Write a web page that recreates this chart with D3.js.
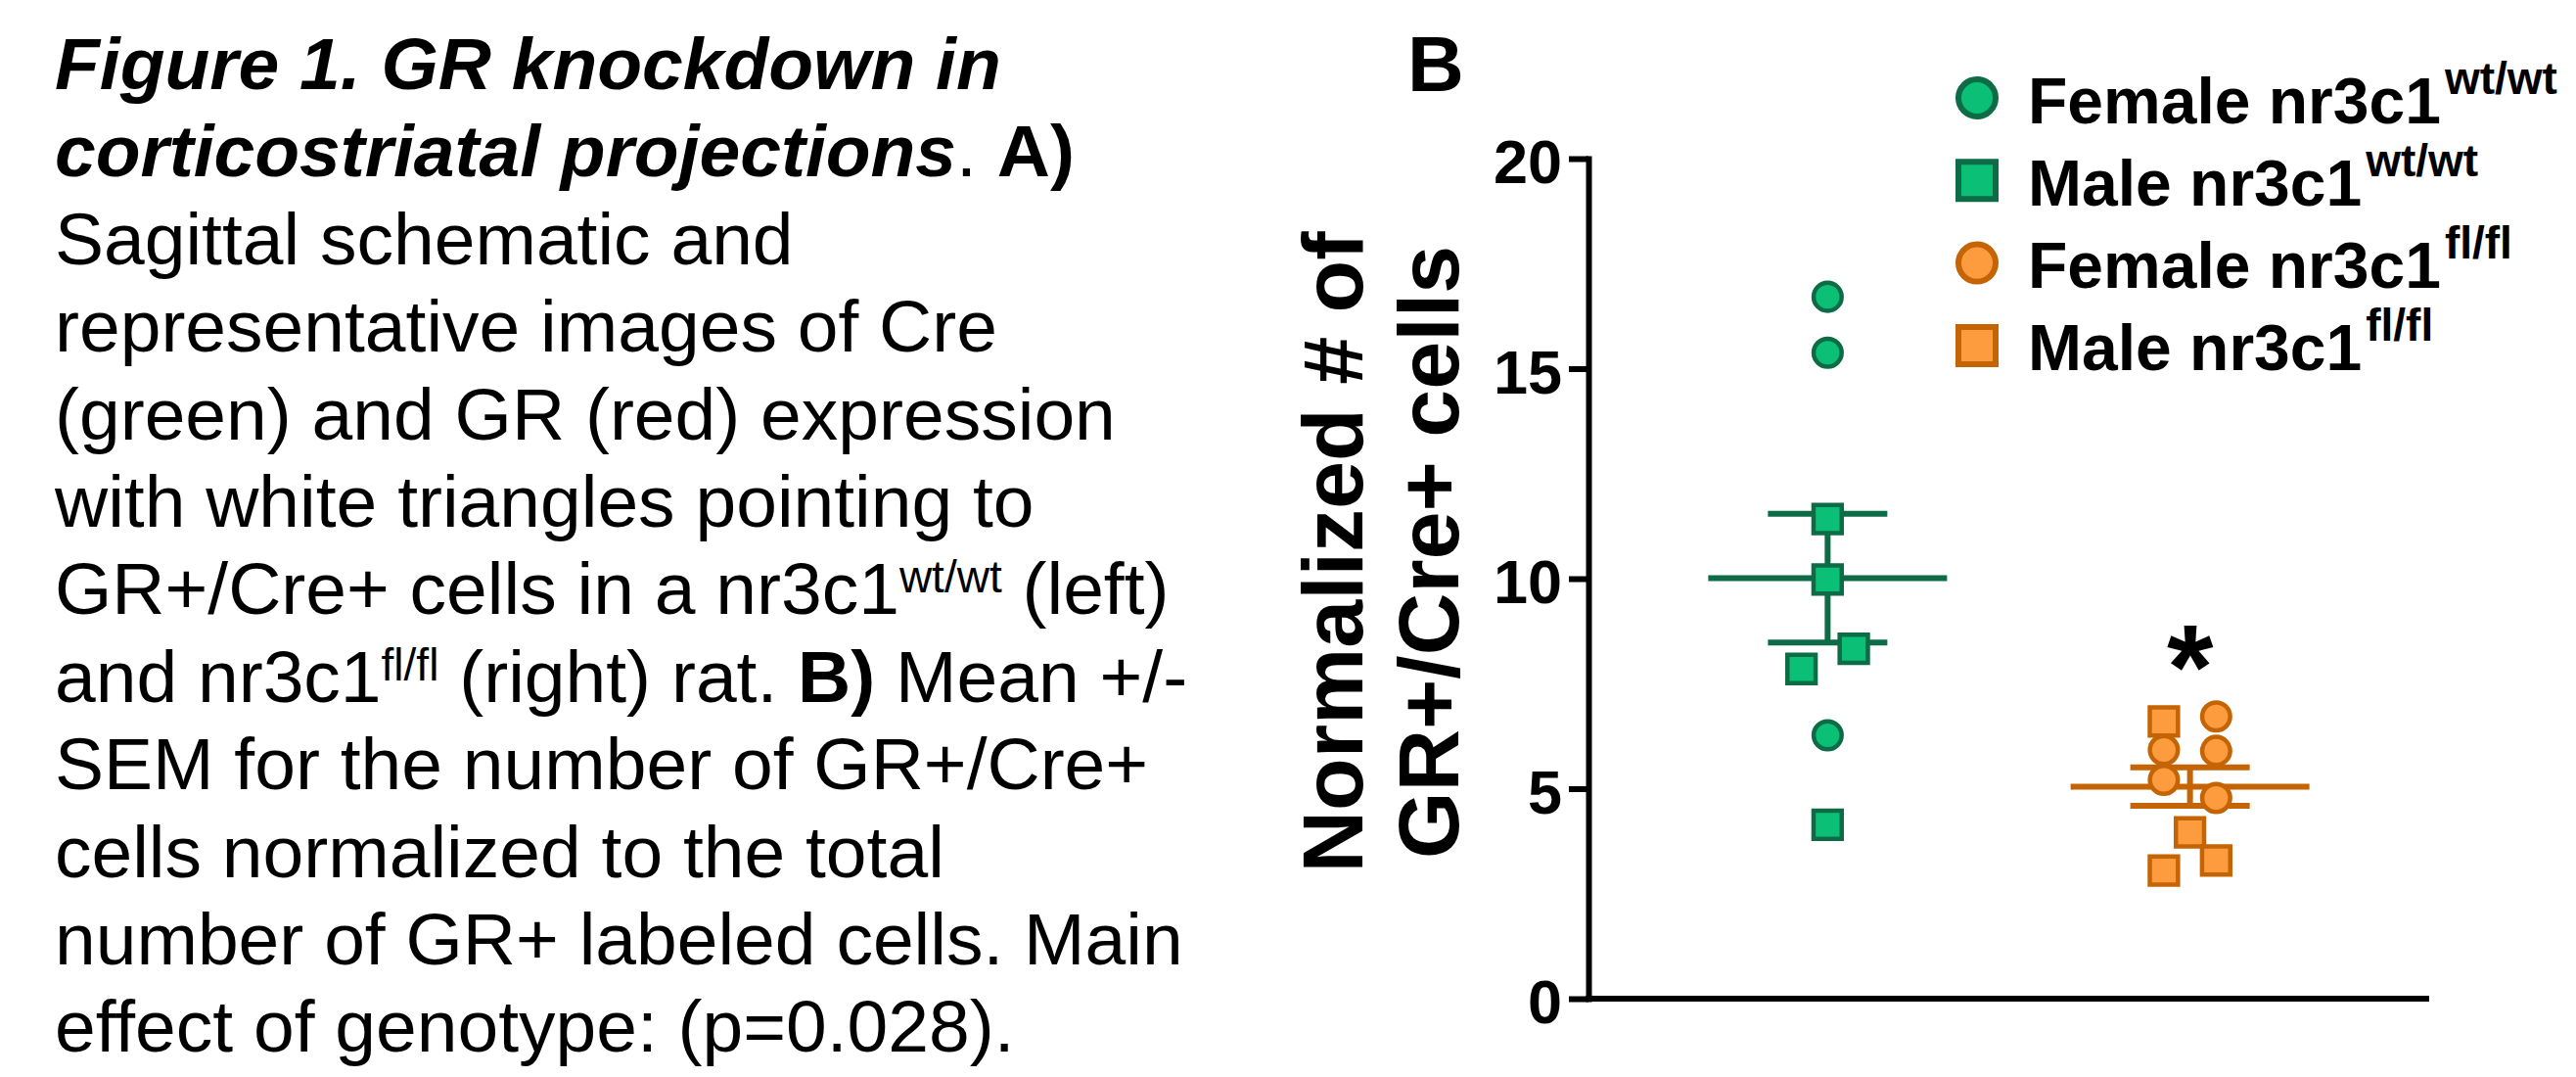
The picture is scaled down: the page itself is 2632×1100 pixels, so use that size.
<!DOCTYPE html>
<html>
<head>
<meta charset="utf-8">
<script src="https://cdn.jsdelivr.net/npm/d3@7"></script>
<style>
  html, body { margin: 0; padding: 0; background: #ffffff; }
  svg { display: block; }
  text { font-family: "Liberation Sans", Arial, Helvetica, sans-serif; white-space: pre; }
</style>
</head>
<body>
<svg id="chart" width="2632" height="1100"></svg>
<script>
// ---------------- DATA ----------------
const groups = ["nr3c1 wt/wt", "nr3c1 fl/fl"];
// individual animals (normalized # of GR+/Cre+ cells), listed males first then females
const wtMale   = [11.42, 9.98, 7.85, 8.33, 4.14];
const wtFemale = [16.71, 15.38, 6.27];
const flMale   = [6.60, 3.96, 3.05, 3.29];
const flFemale = [6.72, 5.92, 5.90, 5.21, 4.78];
const yTicks = [0, 5, 10, 15, 20];
const yDomain = [0, 20];
const legendLabels = ["Female nr3c1", "Male nr3c1", "Female nr3c1", "Male nr3c1"];
const legendSups   = ["wt/wt", "wt/wt", "fl/fl", "fl/fl"];
const legendShapes = ["circle", "square", "circle", "square"];
const legendGroups = [0, 0, 1, 1];
const yTitleLines = ["Normalized # of", "GR+/Cre+ cells"];
const significanceGroup = 1;     // "*" over nr3c1 fl/fl
const significanceValue = 8.5;
const captionLines = [
  [["Figure 1. GR knockdown in", "bi"]],
  [["corticostriatal projections", "bi"], [". ", "r"], ["A)", "b"]],
  [["Sagittal schematic and", "r"]],
  [["representative images of Cre", "r"]],
  [["(green) and GR (red) expression", "r"]],
  [["with white triangles pointing to", "r"]],
  [["GR+/Cre+ cells in a nr3c1", "r"], ["wt/wt", "sup"], [" (left)", "r"]],
  [["and nr3c1", "r"], ["fl/fl", "sup"], [" (right) rat. ", "r"], ["B)", "b"], [" Mean +/-", "r"]],
  [["SEM for the number of GR+/Cre+", "r"]],
  [["cells normalized to the total", "r"]],
  [["number of GR+ labeled cells. Main", "r"]],
  [["effect of genotype: (p=0.028).", "r"]]
];

// ---------------- STYLE ----------------
const fills   = ["#0cbf76", "#fd9c3f"];
const strokes = ["#0d6c46", "#c46405"];

const svg = d3.select("#chart");
svg.append("rect").attr("width", 2632).attr("height", 1100).attr("fill", "#fff");

// ---------------- CAPTION ----------------
const cap = svg.append("g");
const capX = 56, capY0 = 91, capLH = 89.4, capFS = 75;
captionLines.forEach((segs, i) => {
  const t = cap.append("text")
    .attr("x", capX).attr("y", capY0 + i * capLH)
    .attr("font-size", capFS).attr("fill", "#000");
  let shifted = false;
  segs.forEach(([txt, st]) => {
    const ts = t.append("tspan").text(txt);
    if (st === "bi") ts.attr("font-weight", "bold").attr("font-style", "italic");
    if (st === "b") ts.attr("font-weight", "bold");
    if (st === "sup") {
      ts.attr("font-size", 46).attr("dy", -22);
      shifted = true;
    } else if (shifted) {
      ts.attr("dy", 22);
      shifted = false;
    }
  });
});

// ---------------- CHART ----------------
const yScale = d3.scaleLinear().domain(yDomain).range([1020, 162]);
const xScale = d3.scalePoint().domain(groups).range([1623, 2482]).padding(0.66);

// panel letter
svg.append("text").attr("x", 1438).attr("y", 93)
  .attr("font-size", 80).attr("font-weight", "bold").text("B");

// y-axis title
const titleCy = 564;
const yTitle = svg.append("text")
  .attr("transform", `translate(0,${titleCy}) rotate(-90)`)
  .attr("text-anchor", "middle").attr("font-size", 88).attr("font-weight", "bold");
yTitleLines.forEach((l, i) => {
  yTitle.append("tspan").attr("x", 0).attr("y", 1392 + i * 98).text(l);
});

// axes
const yAxis = d3.axisLeft(yScale).tickValues(yTicks).tickSize(20).tickSizeOuter(0)
  .tickPadding(7).tickFormat(d3.format("d"));
const gy = svg.append("g").attr("transform", "translate(1623,0)").call(yAxis);
gy.select(".domain").attr("stroke", "#000").attr("stroke-width", 6).attr("stroke-linecap", "square");
gy.selectAll(".tick line").attr("stroke", "#000").attr("stroke-width", 6);
gy.selectAll(".tick text").attr("font-size", 63).attr("font-weight", "bold")
  .attr("fill", "#000").attr("dy", "0.39em")
  .attr("font-family", "\"Liberation Sans\", Arial, sans-serif");

svg.append("line")
  .attr("x1", 1620).attr("x2", xScale.range()[1])
  .attr("y1", yScale(0)).attr("y2", yScale(0))
  .attr("stroke", "#000").attr("stroke-width", 6);

// build point sets
const sets = [
  { g: 0, pts: wtMale.map(v => ({ v, shape: "square" })).concat(wtFemale.map(v => ({ v, shape: "circle" }))) },
  { g: 1, pts: flMale.map(v => ({ v, shape: "square" })).concat(flFemale.map(v => ({ v, shape: "circle" }))) }
];

// simple row-based swarm: points closer than rowPx share a row and spread symmetrically
const rowPx = 24, spread = 53.4;
function swarm(pts) {
  const s = pts.map((p, i) => Object.assign({}, p, { i })).sort((a, b) => b.v - a.v);
  const rows = [];
  s.forEach(p => {
    const r = rows[rows.length - 1];
    if (r && yScale(p.v) - yScale(r[0].v) < rowPx) r.push(p); else rows.push([p]);
  });
  rows.forEach(r => {
    r.sort((a, b) => a.i - b.i);
    r.forEach((p, k) => { p.dx = (k - (r.length - 1) / 2) * spread; });
  });
  return s;
}

const sym = {
  circle: d3.symbol().type(d3.symbolCircle).size(Math.PI * 14.3 * 14.3),
  square: d3.symbol().type(d3.symbolSquare).size(28.8 * 28.8)
};

sets.forEach(set => {
  const cx = xScale(groups[set.g]);
  const vals = set.pts.map(p => p.v);
  const mean = d3.mean(vals);
  const sem = d3.deviation(vals) / Math.sqrt(vals.length);
  const g = svg.append("g");
  const col = strokes[set.g];
  // mean line
  g.append("line").attr("x1", cx - 122).attr("x2", cx + 122)
    .attr("y1", yScale(mean)).attr("y2", yScale(mean))
    .attr("stroke", col).attr("stroke-width", 6);
  // SEM
  g.append("line").attr("x1", cx).attr("x2", cx)
    .attr("y1", yScale(mean + sem)).attr("y2", yScale(mean - sem))
    .attr("stroke", col).attr("stroke-width", 6);
  [mean + sem, mean - sem].forEach(v => {
    g.append("line").attr("x1", cx - 61).attr("x2", cx + 61)
      .attr("y1", yScale(v)).attr("y2", yScale(v))
      .attr("stroke", col).attr("stroke-width", 6);
  });
  // points
  const laid = swarm(set.pts);
  g.selectAll("path.pt").data(laid).join("path").attr("class", "pt")
    .attr("d", d => sym[d.shape]())
    .attr("transform", d => `translate(${cx + d.dx},${yScale(d.v)})`)
    .attr("fill", fills[set.g]).attr("stroke", col).attr("stroke-width", 4.5);
});

// significance star
svg.append("text")
  .attr("x", xScale(groups[significanceGroup])).attr("y", yScale(significanceValue) + 68)
  .attr("text-anchor", "middle").attr("font-size", 122).attr("font-weight", "bold").text("*");

// ---------------- LEGEND ----------------
const legSym = {
  circle: d3.symbol().type(d3.symbolCircle).size(Math.PI * 19 * 19),
  square: d3.symbol().type(d3.symbolSquare).size(38 * 38)
};
const leg = svg.append("g");
legendLabels.forEach((lab, i) => {
  const y = 100 + i * 84.3;
  const gi = legendGroups[i];
  leg.append("path").attr("d", legSym[legendShapes[i]]())
    .attr("transform", `translate(2020,${y})`)
    .attr("fill", fills[gi]).attr("stroke", strokes[gi]).attr("stroke-width", 6);
  const t = leg.append("text").attr("x", 2072).attr("y", y + 25.5)
    .attr("font-size", 66).attr("font-weight", "bold").attr("fill", "#000");
  t.append("tspan").text(lab);
  t.append("tspan").attr("font-size", 46).attr("dy", -30).attr("dx", 4).text(legendSups[i]);
});
</script>
</body>
</html>
